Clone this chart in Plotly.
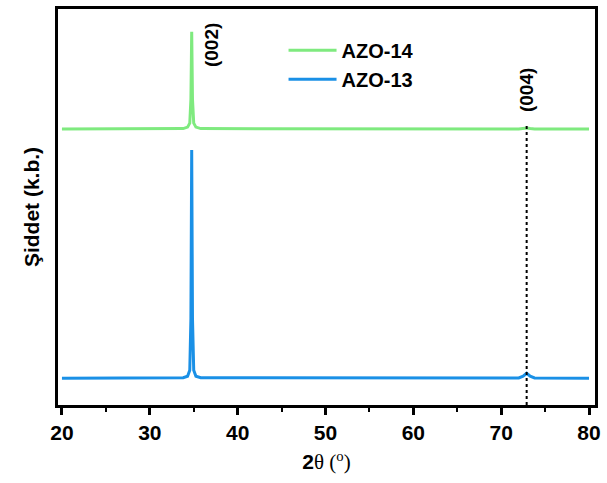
import plotly.graph_objects as go

# 2-theta positions (degrees) and intensities (a.u.)
two_theta = [20, 33.8, 34.3, 34.55, 34.68, 34.77, 34.86, 35.0, 35.25, 35.8,
             72.0, 72.5, 72.9, 73.3, 73.8, 80]
azo13 = [0, 0.5, 2, 8, 60, 230, 60, 8, 2, 0.5, 0.3, 2.0, 5, 2.0, 0.3, 0]
azo14 = [251, 251.5, 253, 257, 281, 349, 281, 257, 253, 251.5,
         251.2, 251.6, 252.2, 251.6, 251.2, 251]

peak_labels = ["(002)", "(004)"]
peak_x = [37.0, 72.9]
peak_label_y = [336, 290]

ref_line_x = [72.9, 72.9]
ref_line_y = [-27, 256]

x_tick_vals = [20, 30, 40, 50, 60, 70, 80]

GREEN = "#7FEA7F"
BLUE = "#1A90E6"
FONT = "Liberation Sans, Arial, sans-serif"

fig = go.Figure()
fig.add_trace(go.Scatter(x=two_theta, y=azo14, mode="lines", name="AZO-14",
                         line=dict(color=GREEN, width=3)))
fig.add_trace(go.Scatter(x=two_theta, y=azo13, mode="lines", name="AZO-13",
                         line=dict(color=BLUE, width=3)))
fig.add_trace(go.Scatter(x=ref_line_x, y=ref_line_y, mode="lines", showlegend=False,
                         line=dict(color="black", width=2, dash="dot")))

for lab, px, py in zip(peak_labels, peak_x, peak_label_y):
    fig.add_annotation(x=px, y=py, text="<b>%s</b>" % lab, textangle=-90,
                       showarrow=False, font=dict(family=FONT, size=19, color="black"))

fig.update_layout(
    width=607, height=483,
    margin=dict(l=58, r=7, t=6, b=78),
    paper_bgcolor="white", plot_bgcolor="white",
    font=dict(family=FONT, color="black"),
    showlegend=True,
    legend=dict(x=0.42, y=0.945, xanchor="left", yanchor="top",
                bgcolor="rgba(0,0,0,0)", itemwidth=48,
                font=dict(family=FONT, size=20, color="black", weight="bold"),
                tracegroupgap=0),
)
fig.update_xaxes(
    range=[19.55, 80.68], tickvals=x_tick_vals,
    showline=True, linecolor="black", linewidth=3, mirror=True,
    ticks="outside", ticklen=7, tickwidth=2.5, tickcolor="black",
    minor=dict(dtick=5, tick0=25, ticks="outside", ticklen=4, tickwidth=2, tickcolor="black"),
    showgrid=False, zeroline=False,
    tickfont=dict(family=FONT, size=21, color="black", weight="bold"),
    title=dict(text="<b>2</b><span style='font-family:Liberation Serif'>θ (<sup>o</sup>)</span>",
               font=dict(family=FONT, size=21, color="black"), standoff=12),
)
fig.update_yaxes(
    range=[-27, 372],
    showline=True, linecolor="black", linewidth=3, mirror=True,
    showticklabels=False, ticks="", showgrid=False, zeroline=False,
    title=dict(text="<b>Şiddet (k.b.)</b>", font=dict(family=FONT, size=21, color="black"),
               standoff=10),
)

fig.write_html("out.html")
